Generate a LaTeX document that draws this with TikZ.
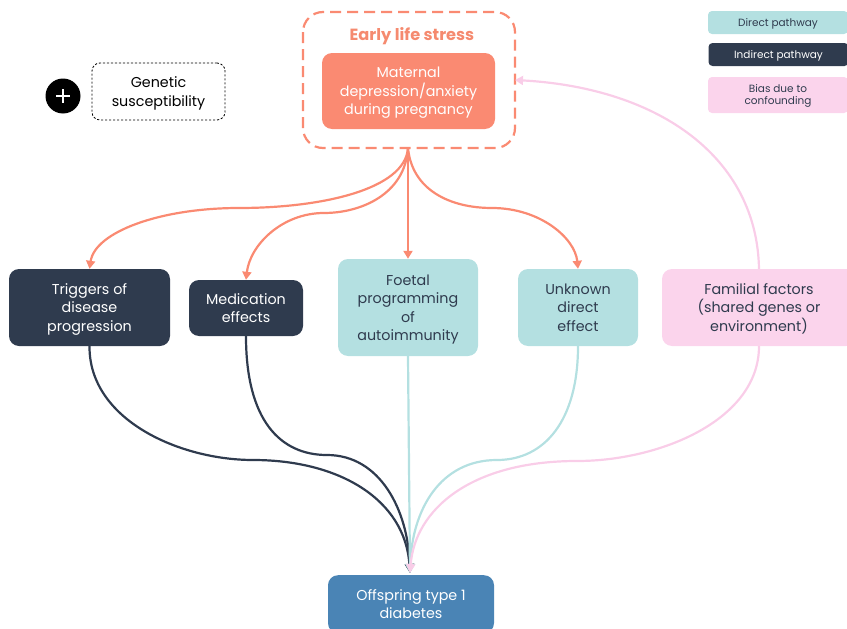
\documentclass[tikz,border=0pt]{standalone}
\usepackage{fontspec}
\setmainfont{Poppins}
\usetikzlibrary{arrows.meta,calc}
\definecolor{salmon}{HTML}{FA8A72}
\definecolor{salmontxt}{HTML}{F58A6F}
\definecolor{navy}{HTML}{2F3B4E}
\definecolor{teal}{HTML}{B4E0E1}
\definecolor{pinkish}{HTML}{FBD4EC}
\definecolor{pinkline}{HTML}{F9CDE8}
\definecolor{steel}{HTML}{4A84B5}
\tikzset{
  card/.style={rounded corners=10pt, align=center, inner sep=0pt, text depth=0pt,
    font=\fontsize{14.3}{18.5}\selectfont},
  darkcard/.style={card, fill=navy, text=white},
  tealcard/.style={card, fill=teal, text=navy},
  pinkcard/.style={card, fill=pinkish, text=navy},
  legendcard/.style={rounded corners=4pt, align=center, inner sep=0pt, text depth=0pt,
    font=\fontsize{10.5}{12}\selectfont},
  salmonarrow/.style={draw=salmon, line width=2.2pt, -{Triangle[length=8pt,width=9pt]}},
  tailline/.style={line width=2.2pt, -{Triangle[length=9pt,width=9pt]}},
}
\begin{document}
\begin{tikzpicture}[x=1pt,y=-1pt]
\useasboundingbox (0,0) rectangle (847,629);

% early life stress group
\draw[salmon, line width=2.2pt, dash pattern=on 11pt off 6pt, rounded corners=20pt]
  (303,12) rectangle (515,148);
\coordinate (elsS) at (408,148);
\coordinate (elsE) at (515,80);
\node[text=salmontxt, font=\fontsize{16.2}{17}\selectfont\bfseries] (title) at (412,36) {Early life stress};
\node[card, fill=salmon, text=white, minimum width=173pt, minimum height=76pt]
  (mat) at (408.5,91) {Maternal\\depression/anxiety\\during pregnancy};

% genetic susceptibility
\node[draw=black, line width=0.8pt, dash pattern=on 2.2pt off 1.8pt, rounded corners=8pt,
  minimum width=133pt, minimum height=57pt, align=center, inner sep=0pt, text depth=0pt,
  font=\fontsize{14.3}{18.5}\selectfont] (gen) at (158.5,91.5) {Genetic\\susceptibility};
\node[circle, fill=black, minimum size=35pt, inner sep=0pt] (plus) at (63,96) {};
\draw[white, line width=2.8pt] ($(plus)+(-7,0)$) -- ($(plus)+(7,0)$);
\draw[white, line width=2.8pt] ($(plus)+(0,-7)$) -- ($(plus)+(0,7)$);

% legend
\node[legendcard, fill=teal, text=navy, minimum width=140pt, minimum height=23pt] (lg1) at (778,22.5) {Direct pathway};
\node[legendcard, fill=navy, text=white, minimum width=140pt, minimum height=23pt] (lg2) at (778.5,54.5) {Indirect pathway};
\node[legendcard, fill=pinkish, text=navy, minimum width=140pt, minimum height=36pt] (lg3) at (778,95) {Bias due to\\confounding};

% mediator row
\node[darkcard, minimum width=161pt, minimum height=77pt] (trig) at (89.5,307.5) {Triggers of\\disease\\progression};
\node[darkcard, minimum width=114pt, minimum height=56pt] (med) at (246,308) {Medication\\effects};
\node[tealcard, minimum width=140pt, minimum height=97pt] (foe) at (408,307.5) {Foetal\\programming\\of\\autoimmunity};
\node[tealcard, minimum width=120pt, minimum height=77pt] (unk) at (578,307.5) {Unknown\\direct\\effect};
\node[pinkcard, minimum width=194pt, minimum height=77pt] (fam) at (759,307.5) {Familial factors\\(shared genes or\\environment)};

% outcome
\node[card, fill=steel, text=white, minimum width=166pt, minimum height=58pt, anchor=north] (out) at (411,575) {};
\node[text=white, align=center, text depth=0pt, font=\fontsize{14.3}{18}\selectfont] (outtxt) at (411,604) {Offspring type 1\\diabetes};
\coordinate (hub) at (410,573);

% exposure to mediators
\draw[salmonarrow] (elsS) .. controls (405,190) and (320,208) .. (239,208)
  .. controls (160,208) and (95,232) .. (trig.north);
\draw[salmonarrow] (elsS) .. controls (405,195) and (360,213) .. (324,213)
  .. controls (282,213) and (250,245) .. (med.north);
\draw[salmonarrow] (elsS) -- (foe.north);
\draw[salmonarrow] (elsS) .. controls (412,190) and (450,208) .. (492,208)
  .. controls (540,208) and (575,238) .. (unk.north);

% confounding back to exposure
\draw[draw=pinkline, line width=2.2pt, -{Triangle[length=8pt,width=9pt]}]
  (fam.north) .. controls (757,158) and (660,88) .. (elsE);

% mediators to outcome
\draw[tailline, draw=navy] (trig.south) .. controls (89,420) and (180,460) .. (253,460)
  .. controls (340,460) and (405,500) .. (hub);
\draw[tailline, draw=navy] (med.south) .. controls (246,420) and (280,455) .. (327,455)
  .. controls (380,455) and (408,510) .. (hub);
\draw[tailline, draw=teal] (foe.south) -- (hub);
\draw[tailline, draw=teal] (unk.south) .. controls (578,420) and (545,460) .. (497,460)
  .. controls (440,460) and (412,510) .. (hub);
\draw[tailline, draw=pinkline] (fam.south) .. controls (759,420) and (660,461) .. (577,461)
  .. controls (470,461) and (415,510) .. (hub);
\end{tikzpicture}
\end{document}
